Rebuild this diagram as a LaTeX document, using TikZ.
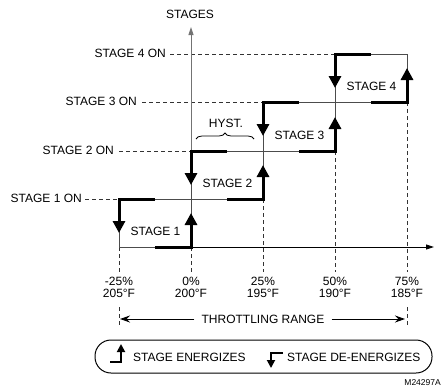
\documentclass[tikz,border=0pt]{standalone}
\usepackage{fontspec}
\setmainfont{Liberation Sans}
\usetikzlibrary{arrows.meta,decorations.pathreplacing}
\begin{document}
\begin{tikzpicture}[x=1pt,y=-1pt,
  font=\fontsize{12}{14}\selectfont,
  boxline/.style={draw=black!70,line width=0.9pt},
  axisline/.style={draw=black!55,line width=0.9pt},
  hystpath/.style={line width=3pt,-{Triangle[length=12pt,width=12pt]}},
  dashline/.style={draw=black!80,line width=0.8pt,dash pattern=on 4pt off 3pt},
  lbl/.style={inner sep=0pt}]
\useasboundingbox (0,0) rectangle (441,388);

% level labels and dashed guide lines
\coordinate (d1a) at (85,199);  \coordinate (d1b) at (119,199);
\coordinate (d2a) at (119,151); \coordinate (d2b) at (191,151);
\coordinate (d3a) at (142,102); \coordinate (d3b) at (263,102);
\coordinate (d4a) at (170,54);  \coordinate (d4b) at (335,54);
\node[lbl,anchor=east] (on1) at (82,198) {STAGE 1 ON};
\node[lbl,anchor=east] (on2) at (114,150) {STAGE 2 ON};
\node[lbl,anchor=east] (on3) at (137,101) {STAGE 3 ON};
\node[lbl,anchor=east] (on4) at (166,53) {STAGE 4 ON};
\foreach \i in {1,2,3,4}{\draw[dashline] (d\i a) -- (d\i b);}

% vertical dashed guides
\foreach \n/\x/\y in {a/119/247,b/191/247,c/263/199,d/335/151,e/407/102}{
  \coordinate (vt\n) at (\x,\y);
  \coordinate (vb\n) at (\x,272);
  \draw[dashline] (vt\n) -- (vb\n);
}

% axes
\coordinate (yo) at (191,247);
\coordinate (ytop) at (191,27);
\coordinate (xo) at (119,247);
\coordinate (xend) at (434,247);
\draw[axisline,-{Triangle[length=8pt,width=5pt]}] (yo) -- (ytop);
\draw[line width=0.9pt,-{Triangle[length=8pt,width=5pt]}] (xo) -- (xend);
\node[lbl] (stages) at (190,14) {STAGES};

% stages
\foreach \k/\l/\t/\b in {1/119/199/247,2/191/151/199,3/263/102/151,4/335/54/102}{
  \pgfmathsetmacro{\r}{\l+72}
  \draw[boxline] (\l,\t) rectangle (\r,\b);
}
\foreach \k/\l/\t/\b in {1/119/199/247,2/191/151/199,3/263/102/151,4/335/54/102}{
  \pgfmathsetmacro{\m}{\l+36}
  \pgfmathsetmacro{\r}{\l+72}
  \coordinate (tm\k) at (\m,\t);
  \coordinate (tl\k) at (\l,\t);
  \coordinate (dn\k) at (\l,\t+34);
  \coordinate (bm\k) at (\m,\b);
  \coordinate (br\k) at (\r,\b);
  \coordinate (up\k) at (\r,\b-34);
  \draw[hystpath] (tm\k) -- (tl\k) -- (dn\k);
  \draw[hystpath] (bm\k) -- (br\k) -- (up\k);
  \node[lbl] (st\k) at (\l+36.5,\b-15.5) {STAGE \k};
}

% axis labels
\foreach \n/\x/\p/\f in {a/119/-25\%/205°F,b/191/0\%/200°F,c/263/25\%/195°F,d/335/50\%/190°F,e/407/75\%/185°F}{
  \node[lbl] (p\n) at (\x,281) {\p};
  \node[lbl] (f\n) at (\x,293) {\f};
}

% hysteresis brace
\node[lbl] (hyst) at (226,123) {HYST.};
\coordinate (hb1) at (196,139);
\coordinate (hb2) at (254,139);
\draw[line width=0.8pt,decorate,decoration={brace,amplitude=6pt}] (hb1) -- (hb2);

% throttling range
\coordinate (tra) at (119,307); \coordinate (trb) at (119,327);
\coordinate (trc) at (407,307); \coordinate (trd) at (407,327);
\draw[dashline] (tra) -- (trb);
\draw[dashline] (trc) -- (trd);
\node[inner xsep=7pt,inner ysep=0pt] (tr) at (263,319) {THROTTLING RANGE};
\coordinate (trl) at (120,319);
\coordinate (trr) at (405,319);
\draw[line width=1pt,-{Stealth[length=10pt,width=7pt]}] (tr.west) -- (trl);
\draw[line width=1pt,-{Stealth[length=10pt,width=7pt]}] (tr.east) -- (trr);

% legend
\draw[line width=1pt,rounded corners=16pt] (95,340) rectangle (432,373);
\coordinate (e1) at (110,362); \coordinate (e2) at (121,362); \coordinate (e3) at (121,344);
\draw[line width=1.8pt,-{Triangle[length=8pt,width=8pt]}] (e1) -- (e2) -- (e3);
\node[lbl,anchor=west] (leg1) at (133,357) {STAGE ENERGIZES};
\coordinate (g1) at (283,353); \coordinate (g2) at (271,353); \coordinate (g3) at (271,368);
\draw[line width=1.8pt,-{Triangle[length=8pt,width=8pt]}] (g1) -- (g2) -- (g3);
\node[lbl,anchor=west] (leg2) at (287,357) {STAGE DE-ENERGIZES};

\node[lbl,anchor=east,font=\fontsize{8.5}{10}\selectfont] (code) at (441,383) {M24297A};
\end{tikzpicture}
\end{document}
